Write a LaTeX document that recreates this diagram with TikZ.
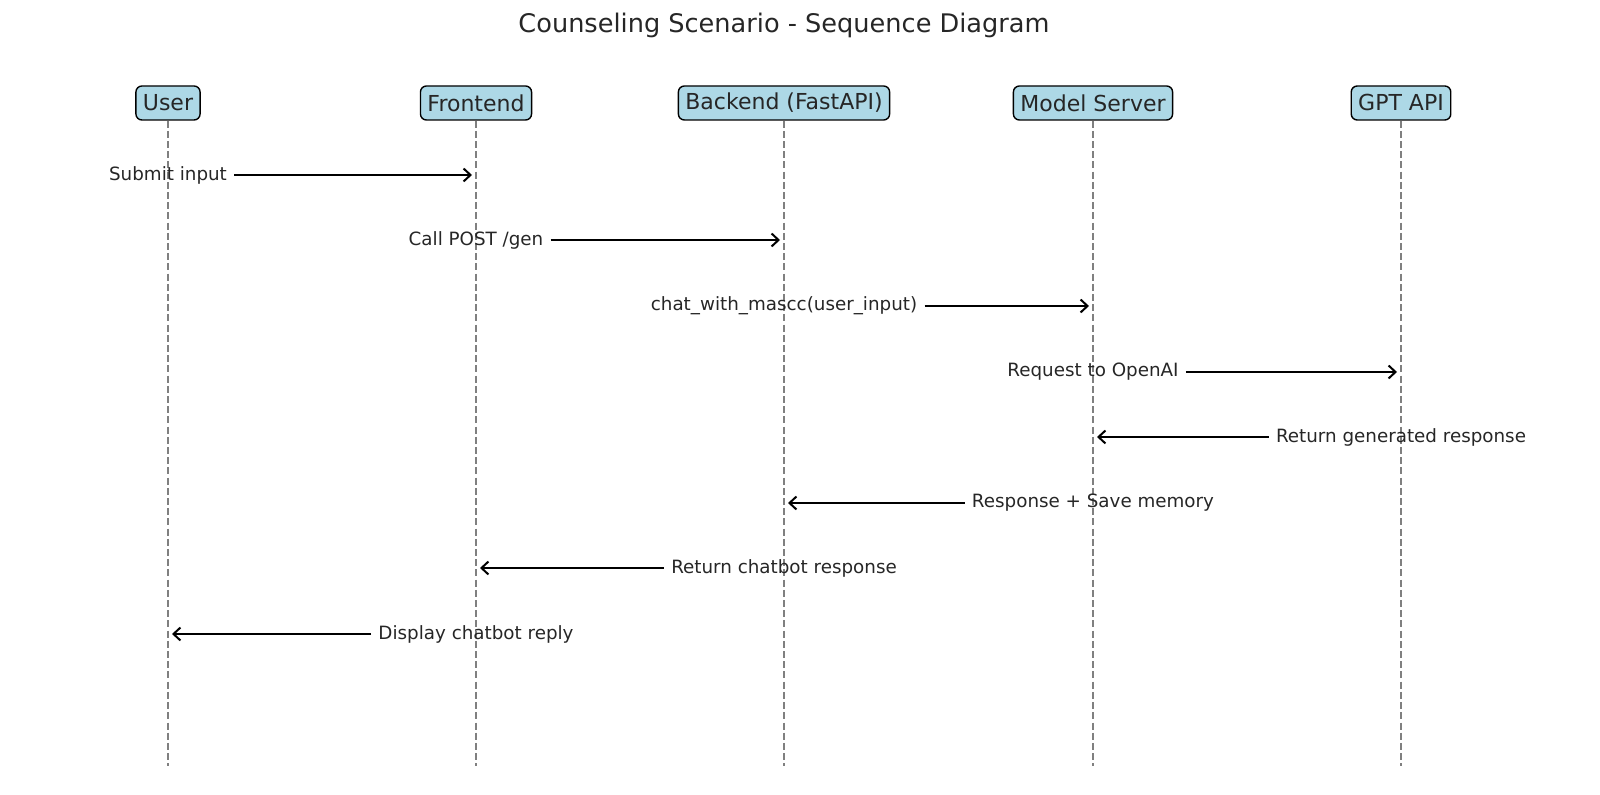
\documentclass[tikz,border=0pt]{standalone}
\usepackage{fontspec}
\setmainfont{DejaVu Sans}
\usetikzlibrary{arrows.meta}

\begin{document}
\begin{tikzpicture}[x=0.5pt,y=-0.5pt,
	actor/.style={draw, line width=0.7pt, fill={rgb,255:red,173;green,216;blue,230}, rounded corners=3pt, inner xsep=3.5pt, inner ysep=0pt, minimum height=17pt, font=\fontsize{11}{13}\selectfont, text=black!85},
	life/.style={gray, line width=0.75pt, dash pattern=on 3.5pt off 1.6pt},
	msg/.style={inner xsep=3.5pt, inner ysep=0pt, font=\fontsize{9.15}{11}\selectfont, text=black!85},
	call/.style={line width=1pt, -{Straight Barb[length=3.5pt,width=6.5pt]}, shorten >=2pt}]

		\useasboundingbox (0,0) rectangle (1600,795);

		\node [font=\fontsize{12.8}{15}\selectfont, text=black!85] (Title) at (784,25) {Counseling Scenario - Sequence Diagram};

		\coordinate (Ue) at (168,766) ;
		\coordinate (Fe) at (476,766) ;
		\coordinate (Be) at (784,766) ;
		\coordinate (Me) at (1093,766) ;
		\coordinate (Ge) at (1401,766) ;

		\node [actor] (U) at (168,103) {User};
		\node [actor] (F) at (476,103) {Frontend};
		\node [actor] (B) at (784,103) {Backend (FastAPI)};
		\node [actor] (M) at (1093,103) {Model Server};
		\node [actor] (G) at (1401,103) {GPT API};

		% lifelines
		\draw [life] (U.south) -- (Ue);
		\draw [life] (F.south) -- (Fe);
		\draw [life] (B.south) -- (Be);
		\draw [life] (M.south) -- (Me);
		\draw [life] (G.south) -- (Ge);

		% messages, label centred on the sender
		\node [msg] (m1) at (168,175) {Submit input};
		\node [msg] (m2) at (476,240) {Call POST /gen};
		\node [msg] (m3) at (784,306) {chat\_with\_mascc(user\_input)};
		\node [msg] (m4) at (1093,372) {Request to OpenAI};
		\node [msg] (m5) at (1401,437) {Return generated response};
		\node [msg] (m6) at (1093,503) {Response + Save memory};
		\node [msg] (m7) at (784,568) {Return chatbot response};
		\node [msg] (m8) at (476,634) {Display chatbot reply};

		\draw [call] (m1.east) -- (m1 -| F);
		\draw [call] (m2.east) -- (m2 -| B);
		\draw [call] (m3.east) -- (m3 -| M);
		\draw [call] (m4.east) -- (m4 -| G);
		\draw [call] (m5.west) -- (m5 -| M);
		\draw [call] (m6.west) -- (m6 -| B);
		\draw [call] (m7.west) -- (m7 -| F);
		\draw [call] (m8.west) -- (m8 -| U);

\end{tikzpicture}
\end{document}
